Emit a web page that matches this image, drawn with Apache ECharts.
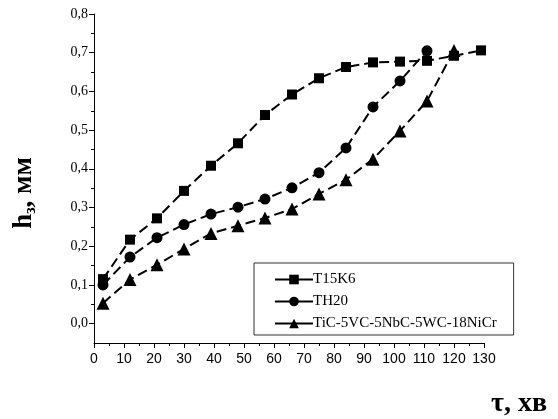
<!DOCTYPE html>
<html>
<head>
<meta charset="utf-8">
<script src="https://cdn.jsdelivr.net/npm/echarts@6/dist/echarts.min.js"></script>
<style>
html,body{margin:0;padding:0;background:#fff;}
#chart{width:558px;height:419px;}
</style>
</head>
<body>
<div id="chart"></div>
<script>
// time, min
const timeValues = [3, 12, 21, 30, 39, 48, 57, 66, 75, 84, 93, 102, 111, 120, 129];
// wear h_з, mm
const t15k6Values = [0.115, 0.217, 0.272, 0.343, 0.408, 0.466, 0.539, 0.592, 0.634, 0.663, 0.675, 0.677, 0.679, 0.692, 0.706];
const th20Values = [0.100, 0.172, 0.222, 0.256, 0.283, 0.301, 0.322, 0.351, 0.390, 0.454, 0.560, 0.627, 0.705];
const ticValues = [0.053, 0.114, 0.152, 0.193, 0.233, 0.253, 0.273, 0.296, 0.335, 0.372, 0.425, 0.498, 0.575, 0.706];
const seriesNames = ['T15K6', 'TH20', 'TiC-5VC-5NbC-5WC-18NiCr'];
const yMajorTicks = [0, 0.1, 0.2, 0.3, 0.4, 0.5, 0.6, 0.7, 0.8];
const yMinorTicks = [0.05, 0.15, 0.25, 0.35, 0.45, 0.55, 0.65, 0.75];

function pairs(ys) { return ys.map((v, i) => [timeValues[i], v]); }

const chart = echarts.init(document.getElementById('chart'), null, {renderer: 'canvas'});
const serif = 'Liberation Serif';
const sans = 'Liberation Sans';
const lineCommon = {
  type: 'line',
  color: '#000',
  lineStyle: {color: '#000', width: 2, type: [10, 5]},
  itemStyle: {color: '#000'},
  showAllSymbol: true,
  animation: false,
  z: 3
};
chart.setOption({
  backgroundColor: '#fff',
  animation: false,
  grid: {left: 94, right: 74, top: 14, bottom: 76, containLabel: false},
  legend: {
    orient: 'vertical',
    left: 254,
    top: 263,
    padding: [9, 17, 4, 20],
    itemGap: 7,
    itemWidth: 38,
    itemHeight: 12,
    borderColor: '#333',
    borderWidth: 1,
    backgroundColor: '#fff',
    textStyle: {fontFamily: serif, fontSize: 15, color: '#000', padding: [0, 0, 0, -5]},
    lineStyle: {type: 'solid', width: 2, color: '#000'},
    data: seriesNames
  },
  xAxis: {
    type: 'value',
    min: 0, max: 130, interval: 10,
    axisLine: {show: true, onZero: false, lineStyle: {color: '#000', width: 1}},
    axisTick: {show: true, inside: false, length: 5, lineStyle: {color: '#000'}},
    minorTick: {show: true, splitNumber: 2, length: 3, lineStyle: {color: '#000'}},
    splitLine: {show: false},
    axisLabel: {fontFamily: sans, fontSize: 14, color: '#000', margin: 9}
  },
  yAxis: [{
    type: 'value',
    min: -0.05, max: 0.8,
    axisLine: {show: true, onZero: false, lineStyle: {color: '#000', width: 1}},
    axisTick: {show: true, length: 5, customValues: yMajorTicks, lineStyle: {color: '#000'}},
    splitLine: {show: false},
    axisLabel: {
      fontFamily: serif, fontSize: 14, color: '#000', margin: 6,
      customValues: yMajorTicks,
      formatter: v => v.toFixed(1).replace('.', ',')
    }
  }, {
    type: 'value',
    min: -0.05, max: 0.8,
    position: 'left',
    axisLine: {show: false},
    axisTick: {show: true, length: 3, customValues: yMinorTicks, lineStyle: {color: '#000'}},
    splitLine: {show: false},
    axisLabel: {show: false, customValues: yMinorTicks}
  }],
  graphic: [{
    type: 'text',
    x: 24, y: 193,
    rotation: Math.PI / 2,
    style: {
      text: '{a|h}{s|з}{a|, мм}',
      align: 'center', verticalAlign: 'middle',
      rich: {
        a: {fontFamily: serif, fontWeight: 'bold', fontSize: 27, fill: '#000', color: '#000'},
        s: {fontFamily: serif, fontWeight: 'bold', fontSize: 16, fill: '#000', color: '#000', padding: [14, 0, 0, 0]}
      }
    }
  }, {
    type: 'text',
    right: 11, top: 390,
    style: {text: 'τ, хв', fontFamily: serif, fontWeight: 'bold', fontSize: 28, fill: '#000'}
  }],
  series: [
    Object.assign({}, lineCommon, {name: seriesNames[0], symbol: 'rect', symbolSize: 10, data: pairs(t15k6Values)}),
    Object.assign({}, lineCommon, {name: seriesNames[1], symbol: 'circle', symbolSize: 11, data: pairs(th20Values)}),
    Object.assign({}, lineCommon, {name: seriesNames[2], symbol: 'triangle', symbolSize: 13, data: pairs(ticValues)})
  ]
});
</script>
</body>
</html>
